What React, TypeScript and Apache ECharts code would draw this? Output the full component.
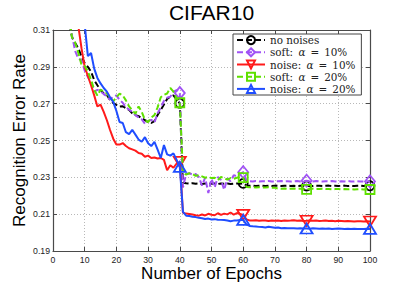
import React, { useEffect, useRef } from "react";
import * as echarts from "echarts";

const epochs: number[] = Array.from({ length: 100 }, (_, i) => i + 1);
const markerEpochs = [40, 60, 80, 100];
const BASE = 0.19;
const Y_MAX = 0.31;
const Y_STEP = 0.02;

const seriesNames = ["no noises", "soft: α = 10%", "noise: α = 10%", "soft: α = 20%", "noise: α = 20%"];

const noNoises = [
  0.42, 0.38, 0.35, 0.33, 0.316, 0.306, 0.303, 0.300, 0.2955, 0.292,
  0.290, 0.2874, 0.2828, 0.280, 0.2774, 0.2756, 0.2747, 0.272, 0.2703, 0.2693,
  0.2684, 0.2686, 0.2675, 0.2666, 0.2648, 0.2638, 0.2632, 0.262, 0.2611, 0.260,
  0.2595, 0.2605, 0.2638, 0.2666, 0.2695, 0.2725, 0.2738, 0.2745, 0.2722, 0.2702,
  0.2272, 0.2268, 0.2266, 0.2268, 0.2265, 0.2267, 0.2264, 0.2266, 0.2268, 0.2265,
  0.2266, 0.2264, 0.2267, 0.2265, 0.2266, 0.2264, 0.2266, 0.2267, 0.2265, 0.2267,
  0.2256, 0.2254, 0.2255, 0.2253, 0.2254, 0.2255, 0.2253, 0.2254, 0.2253, 0.2255,
  0.2254, 0.2253, 0.2254, 0.2255, 0.2253, 0.2254, 0.2253, 0.2254, 0.2255, 0.2253,
  0.2254, 0.2253, 0.2255, 0.2254, 0.2253, 0.2254, 0.2255, 0.2253, 0.2254, 0.2253,
  0.2254, 0.2255, 0.2253, 0.2254, 0.2253, 0.2254, 0.2255, 0.2253, 0.2254, 0.2254,
];

const soft10 = [
  0.43, 0.39, 0.355, 0.332, 0.317, 0.307, 0.2985, 0.2945, 0.2935, 0.288,
  0.2845, 0.2815, 0.2765, 0.2775, 0.2768, 0.2752, 0.274, 0.2722, 0.2738, 0.2745,
  0.272, 0.2705, 0.268, 0.2668, 0.2655, 0.2638, 0.2625, 0.2615, 0.2592, 0.2605,
  0.2612, 0.2598, 0.2648, 0.268, 0.2715, 0.2732, 0.2738, 0.2765, 0.2774, 0.2758,
  0.2245, 0.2318, 0.2322, 0.2315, 0.2318, 0.2302, 0.2255, 0.2298, 0.2215, 0.2292,
  0.2245, 0.2302, 0.2285, 0.2232, 0.2295, 0.2278, 0.2312, 0.2305, 0.2318, 0.2328,
  0.2285, 0.2279, 0.2278, 0.2280, 0.2277, 0.2279, 0.2278, 0.2280, 0.2278, 0.2277,
  0.2279, 0.2280, 0.2278, 0.2279, 0.2277, 0.2279, 0.2280, 0.2278, 0.2279, 0.2282,
  0.2279, 0.2278, 0.2280, 0.2278, 0.2277, 0.2279, 0.2278, 0.2280, 0.2278, 0.2277,
  0.2279, 0.2278, 0.2280, 0.2278, 0.2277, 0.2279, 0.2278, 0.2277, 0.2279, 0.2278,
];

const noise10 = [
  0.45, 0.42, 0.39, 0.37, 0.35, 0.338, 0.325, 0.312, 0.300, 0.290,
  0.285, 0.280, 0.2745, 0.2685, 0.2695, 0.2655, 0.261, 0.2557, 0.251, 0.2478,
  0.2478, 0.2486, 0.247, 0.2458, 0.2452, 0.2445, 0.2432, 0.2428, 0.2412, 0.2418,
  0.2405, 0.2408, 0.2402, 0.2405, 0.2395, 0.2338, 0.2366, 0.2352, 0.2375, 0.2384,
  0.2108, 0.2103, 0.2101, 0.2098, 0.2094, 0.2092, 0.2098, 0.2093, 0.2102, 0.2097,
  0.2094, 0.2105, 0.2096, 0.2103, 0.2099, 0.2109, 0.2098, 0.2106, 0.2101, 0.2096,
  0.2072, 0.2066, 0.2065, 0.2067, 0.2064, 0.2066, 0.2065, 0.2063, 0.2066, 0.2064,
  0.2065, 0.2063, 0.2066, 0.2064, 0.2065, 0.2067, 0.2064, 0.2065, 0.2063, 0.2064,
  0.2066, 0.2064, 0.2065, 0.2063, 0.2064, 0.2066, 0.2063, 0.2064, 0.2062, 0.2064,
  0.2063, 0.2061, 0.2063, 0.2062, 0.2060, 0.2062, 0.2061, 0.2060, 0.2061, 0.2060,
];

const soft20 = [
  0.43, 0.39, 0.355, 0.332, 0.318, 0.306, 0.303, 0.2975, 0.291, 0.2905,
  0.2875, 0.283, 0.2775, 0.2745, 0.2775, 0.2768, 0.2755, 0.2735, 0.2712, 0.2735,
  0.2755, 0.2745, 0.2718, 0.2685, 0.2665, 0.2645, 0.2685, 0.2655, 0.2612, 0.260,
  0.2625, 0.2638, 0.268, 0.2735, 0.2748, 0.2755, 0.2785, 0.2765, 0.2728, 0.2705,
  0.2325, 0.2315, 0.2322, 0.2318, 0.2308, 0.2312, 0.2305, 0.2298, 0.2302, 0.2296,
  0.2298, 0.2285, 0.2302, 0.2295, 0.2288, 0.2296, 0.2292, 0.2298, 0.2302, 0.2298,
  0.2248, 0.2246, 0.2247, 0.2245, 0.2246, 0.2244, 0.2245, 0.2246, 0.2244, 0.2244,
  0.2239, 0.2238, 0.2239, 0.2237, 0.2238, 0.2239, 0.2237, 0.2238, 0.2236, 0.2235,
  0.2237, 0.2238, 0.2236, 0.2237, 0.2238, 0.2236, 0.2237, 0.2235, 0.2236, 0.2237,
  0.2235, 0.2236, 0.2235, 0.2236, 0.2234, 0.2235, 0.2236, 0.2234, 0.2235, 0.2234,
];

const noise20 = [
  0.46, 0.43, 0.41, 0.39, 0.37, 0.355, 0.34, 0.33, 0.32, 0.313,
  0.2958, 0.2975, 0.289, 0.284, 0.281, 0.2785, 0.2765, 0.2735, 0.271, 0.266,
  0.2600, 0.2595, 0.2545, 0.2535, 0.2558, 0.2532, 0.2505, 0.2493, 0.2518, 0.2485,
  0.247, 0.2492, 0.245, 0.2405, 0.2475, 0.2425, 0.2418, 0.243, 0.2395, 0.2357,
  0.2112, 0.2092, 0.2090, 0.2086, 0.2084, 0.2080, 0.2078, 0.2074, 0.2076, 0.2071,
  0.2073, 0.2070, 0.2069, 0.2068, 0.2066, 0.2062, 0.2065, 0.2066, 0.2068, 0.2069,
  0.2045, 0.2036, 0.2034, 0.2033, 0.2031, 0.2030, 0.2028, 0.2032, 0.2029, 0.2026,
  0.2028, 0.2024, 0.2025, 0.2024, 0.2023, 0.2024, 0.2022, 0.2023, 0.2022, 0.2022,
  0.2021, 0.2023, 0.2022, 0.2021, 0.2022, 0.2021, 0.2022, 0.2020, 0.2021, 0.2022,
  0.2021, 0.2020, 0.2021, 0.2020, 0.2021, 0.2020, 0.2019, 0.2020, 0.2021, 0.2020,
];

const seriesValues = [noNoises, soft10, noise10, soft20, noise20];
const colors = ["#000000", "#a052f5", "#ff1a1a", "#5fe000", "#1f4dff"];
const dashed = [true, true, false, true, false];
const symbols = ["circle", "diamond", "path://M0,0L12,0L6,10Z", "rect", "triangle"];
const symbolSizes: any[] = [[9, 9], [10, 12], [12, 10], [9, 9], [12, 10]];

const AXIS_COLOR = "#4a4a4a";
const SANS = "Liberation Sans, Arial, sans-serif";
const SERIF = "DejaVu Serif, serif";
const LEGEND_FS = 10.4;
const LEGEND_LH = 12.2;

export default function App() {
  const ref = useRef<HTMLDivElement>(null);
  useEffect(() => {
    if (!ref.current) return;
    const chart = echarts.init(ref.current, null, { renderer: "svg" });
    const gridLeft = 53, gridRight = 39, gridTop = 30, gridBottom = 32;
    const splitLine = { show: true, lineStyle: { color: "#b8b8b8", type: [1, 2], width: 1 } };
    const axisLine = { show: true, onZero: false, lineStyle: { color: AXIS_COLOR, width: 1.2 } };
    const axisTick = { show: true, inside: true, length: 4, lineStyle: { color: AXIS_COLOR, width: 1 } };

    const series = seriesValues.map((vals, si) => ({
      name: seriesNames[si],
      type: "line",
      xAxisIndex: 0,
      yAxisIndex: 0,
      data: epochs.map((e, i) => [e, vals[i] - BASE]),
      symbol: symbols[si],
      showSymbol: true,
      showAllSymbol: true,
      symbolSize: (value: any) => (markerEpochs.includes(value[0]) ? symbolSizes[si] : 0),
      clip: true,
      lineStyle: { color: colors[si], width: 2, type: dashed[si] ? [6, 3] : "solid" },
      itemStyle: { color: "rgba(255,255,255,0)", borderColor: colors[si], borderWidth: 1.8 },
      emphasis: { disabled: true },
      z: 2 + si,
    }));

    const richBase = { fontFamily: SERIF, fontSize: LEGEND_FS, color: "#222", lineHeight: LEGEND_LH };

    chart.setOption({
      animation: false,
      grid: { left: gridLeft, right: gridRight, top: gridTop, bottom: gridBottom, containLabel: false },
      xAxis: [
        {
          type: "value", position: "bottom", min: 0, max: 100, interval: 10,
          axisLine, axisTick,
          axisLabel: { fontFamily: SANS, fontSize: 8.7, color: "#222", margin: 4 },
          splitLine,
        },
        {
          type: "value", position: "top", min: 0, max: 100, interval: 10,
          axisLine, axisTick, axisLabel: { show: false }, splitLine: { show: false },
        },
      ],
      yAxis: [
        {
          type: "value", position: "left", min: 0, max: Y_MAX - BASE, interval: Y_STEP,
          axisLine, axisTick,
          axisLabel: {
            fontFamily: SANS, fontSize: 8.7, color: "#222", margin: 3,
            formatter: (v: number) => (v + BASE).toFixed(2),
          },
          splitLine,
        },
        {
          type: "value", position: "right", min: 0, max: Y_MAX - BASE, interval: Y_STEP,
          axisLine, axisTick, axisLabel: { show: false }, splitLine: { show: false },
        },
      ],
      legend: {
        orient: "vertical",
        left: 233,
        top: 34,
        itemWidth: 28,
        itemHeight: 10,
        itemGap: 0,
        padding: [0, 6, 0, 3],
        backgroundColor: "#ffffff",
        borderColor: "#444444",
        borderWidth: 1,
        data: seriesNames,
        formatter: (name: string) => name.replace("α = ", "{a|α}{e|=}"),
        textStyle: {
          ...richBase,
          rich: {
            a: { ...richBase, fontStyle: "italic", padding: [0, 0, 0, 2] },
            e: { ...richBase, padding: [0, 5, 0, 5] },
          },
        },
      },
      graphic: [
        {
          type: "text", x: 211.5, y: 12.6,
          style: { text: "CIFAR10", font: `21px ${SANS}`, fill: "#000", textAlign: "center", textVerticalAlign: "middle" },
        },
        {
          type: "text", x: 211.5, y: 273.2,
          style: { text: "Number of Epochs", font: `17px ${SANS}`, fill: "#000", textAlign: "center", textVerticalAlign: "middle" },
        },
        {
          type: "text", x: 19.8, y: 140.5, rotation: Math.PI / 2,
          style: { text: "Recognition Error Rate", font: `17px ${SANS}`, fill: "#000", textAlign: "center", textVerticalAlign: "middle" },
        },
      ],
      series,
    });
    return () => chart.dispose();
  }, []);
  return <div ref={ref} style={{ position: "fixed", left: 0, top: 0, width: 409, height: 283, background: "#fff" }} />;
}
